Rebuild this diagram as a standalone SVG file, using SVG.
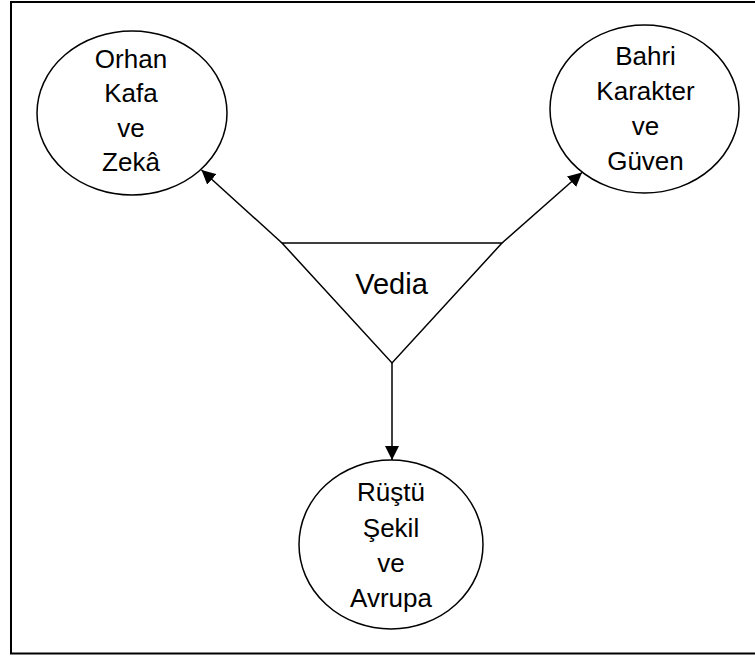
<svg xmlns="http://www.w3.org/2000/svg" width="755" height="657" viewBox="0 0 755 657">
  <defs>
    <marker id="arrow" viewBox="0 0 14 14" refX="14" refY="7" markerWidth="14" markerHeight="14" markerUnits="userSpaceOnUse" orient="auto">
      <path d="M0,0 L14,7 L0,14 Z" fill="#000"/>
    </marker>
    <style>
      .node { fill: #fff; stroke: #000; stroke-width: 1.5; }
      .edge { fill: none; stroke: #000; stroke-width: 1.5; marker-end: url(#arrow); }
      .label { font-family: "Liberation Sans", Arial, sans-serif; font-size: 26px; fill: #000; text-anchor: middle; }
      .big { font-size: 29px; }
    </style>
  </defs>

  <rect x="0" y="0" width="755" height="657" fill="#fff"/>
  <!-- outer frame -->
  <rect x="11" y="2" width="760" height="651.5" fill="none" stroke="#000" stroke-width="2"/>

  <g id="connectors">
    <line class="edge" x1="282" y1="243" x2="201.5" y2="170"/>
    <line class="edge" x1="502" y1="243" x2="582" y2="172.5"/>
    <line class="edge" x1="392" y1="363" x2="392" y2="460"/>
  </g>

  <g id="vedia">
    <polygon class="node" points="282,243 502,243 392,363"/>
    <text class="label big" x="391.5" y="294">Vedia</text>
  </g>

  <g id="orhan">
    <ellipse class="node" cx="132" cy="113" rx="95" ry="82"/>
    <text class="label" x="131" y="67.5">Orhan</text>
    <text class="label" x="131" y="102">Kafa</text>
    <text class="label" x="131" y="136.5">ve</text>
    <text class="label" x="131" y="171">Zekâ</text>
  </g>

  <g id="bahri">
    <ellipse class="node" cx="644.5" cy="109" rx="94.5" ry="84"/>
    <text class="label" x="645.5" y="65">Bahri</text>
    <text class="label" x="645.5" y="100">Karakter</text>
    <text class="label" x="645.5" y="135">ve</text>
    <text class="label" x="645.5" y="170">Güven</text>
  </g>

  <g id="rustu">
    <ellipse class="node" cx="391" cy="544.5" rx="92" ry="84.5"/>
    <text class="label" x="391" y="501">Rüştü</text>
    <text class="label" x="391" y="536.5">Şekil</text>
    <text class="label" x="391" y="571.5">ve</text>
    <text class="label" x="391" y="606.5">Avrupa</text>
  </g>
</svg>
